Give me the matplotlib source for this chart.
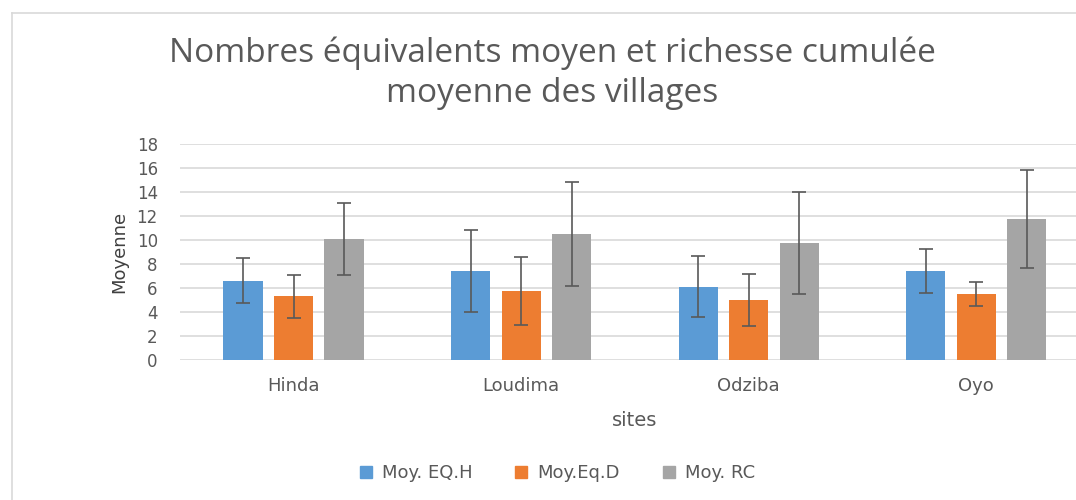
import numpy as np
import matplotlib
matplotlib.use('Agg')
import matplotlib.pyplot as plt
from matplotlib.lines import Line2D

# données
sites = ['Hinda', 'Loudima', 'Odziba', 'Oyo']
series_names = ['Moy. EQ.H', 'Moy.Eq.D', 'Moy. RC']
moy_eqh = [6.6, 7.4, 6.1, 7.4]
moy_eqd = [5.3, 5.75, 5.0, 5.5]
moy_rc = [10.1, 10.5, 9.75, 11.75]
err_eqh = [1.87, 3.43, 2.54, 1.83]
err_eqd = [1.82, 2.87, 2.17, 1.02]
err_rc = [3.0, 4.3, 4.25, 4.12]

COLORS = ['#5B9BD5', '#ED7D31', '#A5A5A5']
TXT = '#595959'
BAR_W = 0.172
OFFSETS = [-0.222, 0.0, 0.222]

plt.rcParams['font.family'] = ['DejaVu Sans']

fig = plt.figure(figsize=(10.76, 5.0), dpi=100)
ax = fig.add_axes([180 / 1076, 0.28, 1 - 180 / 1076, 0.432])

x = np.arange(len(sites))
values = [moy_eqh, moy_eqd, moy_rc]
errors = [err_eqh, err_eqd, err_rc]
for vals, errs, off, col, name in zip(values, errors, OFFSETS, COLORS, series_names):
    ax.bar(x + off, vals, width=BAR_W, color=col, label=name, zorder=2)
    ax.errorbar(x + off, vals, yerr=errs, fmt='none', ecolor=TXT,
                elinewidth=1.2, capsize=5, capthick=1.2, zorder=3)

ax.set_xlim(-0.4987, 3.438)
ax.set_ylim(0, 18)
ax.set_yticks(np.arange(0, 19, 2))
ax.set_xticks(x)
ax.set_xticklabels(sites, fontsize=13)
ax.tick_params(axis='both', length=0, colors=TXT)
ax.tick_params(axis='y', pad=16, labelsize=12)
ax.tick_params(axis='x', pad=12)
ax.grid(axis='y', color='#D9D9D9', linewidth=1.2, zorder=0)
ax.set_axisbelow(True)
for s in ax.spines.values():
    s.set_visible(False)

ax.set_ylabel('Moyenne', fontsize=13, color='#404040', labelpad=6)
fig.text(635 / 1076, 1 - 420 / 500, 'sites', ha='center', va='center',
         fontsize=14, color=TXT)

fig.text(552 / 1076, 1 - 53 / 500, 'Nombres équivalents moyen et richesse cumulée',
         ha='center', va='center', fontsize=24, color=TXT, family='Open Sans')
fig.text(552 / 1076, 1 - 93 / 500, 'moyenne des villages',
         ha='center', va='center', fontsize=24, color=TXT, family='Open Sans')

handles = [Line2D([0], [0], marker='s', linestyle='none', markersize=9,
                  markerfacecolor=c, markeredgecolor=c) for c in COLORS]
fig.legend(handles, series_names, loc='center', bbox_to_anchor=(556 / 1076, 1 - 473 / 500),
           ncol=3, frameon=False, fontsize=13, labelcolor=TXT,
           handletextpad=0.4, columnspacing=2.2, handlelength=1.0)

# cadre du graphique
fig.add_artist(Line2D([12 / 1076, 12 / 1076], [0, 1 - 13 / 500], color='#D9D9D9', lw=1.2))
fig.add_artist(Line2D([12 / 1076, 1], [1 - 13 / 500, 1 - 13 / 500], color='#D9D9D9', lw=1.2))

fig.savefig('out.png', dpi=100)
